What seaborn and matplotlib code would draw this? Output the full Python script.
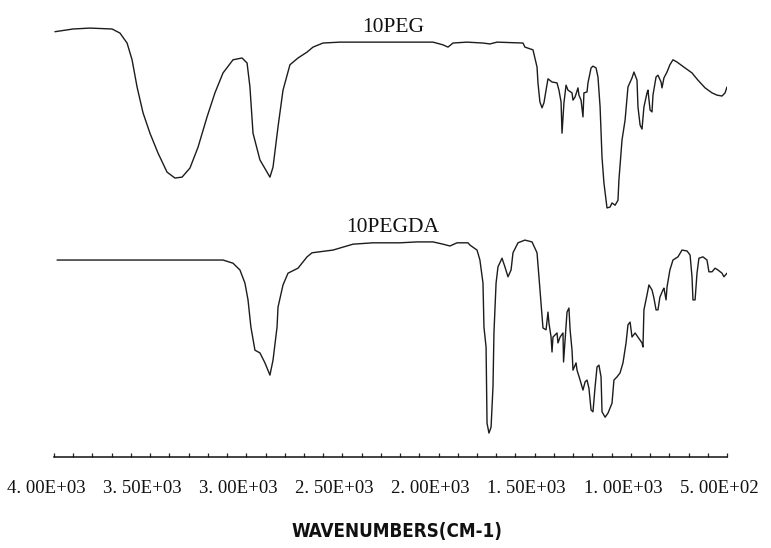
import matplotlib
matplotlib.use("Agg")
import matplotlib.pyplot as plt
import matplotlib.transforms as mtransforms
from matplotlib import font_manager
from matplotlib.ticker import MultipleLocator, FixedLocator
import numpy as np
import pandas as pd
import seaborn as sns

# ---------------- data ----------------
peg_wn = [3995, 3901, 3813, 3698, 3657, 3620, 3594, 3568, 3537, 3501, 3459, 3412,
          3371, 3334, 3293, 3251, 3204, 3163, 3121, 3069, 3022, 2996, 2981, 2965,
          2929, 2877, 2861, 2835, 2809, 2773, 2731, 2684, 2653, 2601, 2513, 2409,
          2201, 2029, 1977, 1951, 1925, 1852, 1769, 1733, 1696, 1561, 1551, 1509,
          1488, 1483, 1473, 1462, 1452, 1441, 1431, 1410, 1384, 1374, 1363, 1358,
          1348, 1337, 1327, 1306, 1301, 1290, 1275, 1270, 1259, 1249, 1244, 1228,
          1223, 1207, 1197, 1181, 1171, 1160, 1150, 1140, 1124, 1108, 1098, 1082,
          1067, 1062, 1046, 1030, 1015, 994, 984, 968, 963, 952, 942, 932, 916,
          911, 900, 890, 885, 869, 859, 843, 838, 828, 812, 797, 781, 760, 718,
          682, 651, 614, 578, 552, 526, 510, 500]
peg_t = [93.0, 93.6, 93.8, 93.6, 92.7, 90.5, 86.8, 80.8, 75.1, 70.6, 66.2, 62.0,
         60.7, 60.9, 62.9, 67.5, 74.2, 79.5, 83.9, 86.8, 87.2, 86.1, 80.8, 70.6,
         64.7, 60.9, 63.1, 72.0, 80.1, 85.7, 87.2, 88.5, 89.6, 90.5, 90.7, 90.7,
         90.7, 90.7, 90.1, 89.6, 90.5, 90.7, 90.5, 90.3, 90.7, 90.5, 89.6, 89.0,
         85.2, 81.7, 77.5, 76.2, 77.3, 80.1, 82.6, 81.9, 81.7, 80.1, 77.5, 70.6,
         77.3, 81.2, 80.1, 79.5, 77.9, 78.6, 80.6, 79.0, 77.9, 74.2, 79.5, 79.7,
         81.7, 85.0, 85.4, 85.0, 83.0, 76.4, 65.3, 59.6, 54.1, 54.3, 55.2, 54.7,
         55.8, 60.3, 69.1, 73.5, 80.8, 82.8, 84.1, 82.3, 76.4, 72.4, 71.5, 76.4, 79.5,
         80.1, 75.7, 75.3, 79.0, 83.0, 83.4, 81.9, 80.6, 82.8, 84.1, 85.7, 86.8, 86.3, 85.0,
         83.9, 82.3, 80.6, 79.5, 79.0, 78.8, 79.5, 80.8]

pegda_wn = [3984, 3121, 3069, 3033, 3007, 2991, 2976, 2955, 2929, 2903, 2877, 2861,
            2840, 2835, 2809, 2783, 2731, 2684, 2658, 2549, 2445, 2341, 2201, 2112,
            2029, 1977, 1941, 1904, 1847, 1837, 1800, 1785, 1769, 1764, 1753, 1748,
            1738, 1727, 1717, 1712, 1701, 1691, 1670, 1655, 1639, 1623, 1613, 1587,
            1551, 1514, 1488, 1478, 1467, 1457, 1441, 1431, 1426, 1415, 1410, 1405,
            1384, 1379, 1368, 1353, 1350, 1342, 1332, 1322, 1316, 1306, 1301, 1285,
            1280, 1264, 1249, 1238, 1228, 1218, 1207, 1197, 1186, 1176, 1166, 1155,
            1150, 1134, 1119, 1098, 1088, 1072, 1056, 1041, 1025, 1015, 1004, 994,
            978, 963, 942, 937, 932, 916, 906, 890, 880, 869, 859, 849, 833, 828,
            817, 812, 797, 781, 755, 734, 708, 692, 682, 677, 666, 656, 646, 625,
            604, 594, 578, 562, 547, 526, 516, 500]
pegda_t = [42.6, 42.6, 41.9, 40.4, 37.5, 33.8, 27.8, 22.7, 22.1, 19.9, 17.2, 20.5,
           27.8, 32.2, 37.1, 39.7, 40.8, 43.3, 44.2, 44.8, 46.1, 46.4, 46.4, 46.6,
           46.6, 46.1, 45.7, 46.4, 46.4, 45.9, 44.8, 42.6, 37.5, 27.8, 23.4, 6.6,
           4.4, 5.7, 14.6, 26.5, 37.5, 41.1, 43.0, 41.1, 38.9, 40.4, 44.2, 46.4,
           47.0, 46.6, 44.2, 38.9, 33.1, 27.6, 27.2, 31.1, 28.7, 25.6, 22.3, 25.6,
           26.5, 24.3, 25.6, 26.5, 20.1, 24.9, 31.1, 32.0, 27.2, 22.7, 18.3, 19.9,
           18.3, 16.1, 13.9, 15.7, 16.1, 14.3, 9.5, 9.1, 14.6, 19.0, 19.4, 16.8,
           9.1, 7.9, 8.8, 11.0, 16.1, 16.8, 17.7, 19.9, 24.3, 28.3, 28.9, 25.6,
           26.5, 25.6, 24.3, 23.4, 31.6, 34.9, 37.1, 36.0, 34.2, 31.6, 31.6, 34.4, 36.0, 36.4,
           33.8, 36.6, 40.4, 42.6, 43.3, 44.8, 44.6, 43.7, 38.9, 33.8, 33.8, 39.7, 43.0, 43.3,
           42.6, 40.0, 40.0, 40.8, 40.4, 39.7, 38.9, 39.7]

series_names = ["10PEG", "10PEGDA"]
tick_values = [4000, 3500, 3000, 2500, 2000, 1500, 1000, 500]
tick_labels = ["4. 00E+03", "3. 50E+03", "3. 00E+03", "2. 50E+03",
               "2. 00E+03", "1. 50E+03", "1. 00E+03", "5. 00E+02"]
x_label = "WAVENUMBERS(CM-1)"
# label anchor points (wavenumber, value) for the series names
name_wn = [2235, 2240]
name_t = [93.0, 48.7]

# ---------------- build frame ----------------
df = pd.concat([
    pd.DataFrame({"wn": peg_wn, "T": peg_t, "sample": series_names[0]}),
    pd.DataFrame({"wn": pegda_wn, "T": pegda_t, "sample": series_names[1]}),
], ignore_index=True)

sns.set_style("white")
plt.rcParams["font.family"] = ["Liberation Serif", "DejaVu Serif"]

fig = plt.figure(figsize=(7.71, 5.48), dpi=100)
ax = fig.add_axes([54 / 771, 1 - 457 / 548, 673 / 771, 457 / 548])

sns.lineplot(data=df, x="wn", y="T", units="sample", estimator=None,
             color="#1c1c1c", linewidth=1.0, ax=ax, legend=False)

ax.set_xlim(4000, 500)
ax.set_ylim(-0.88, 100)

for nm, xw, yt in zip(series_names, name_wn, name_t):
    ax.text(xw, yt, nm, ha="center", va="baseline", fontsize=15.5,
            family=["Liberation Serif", "DejaVu Serif"], color="#111111")

# spines
for s in ["top", "left", "right"]:
    ax.spines[s].set_visible(False)
ax.spines["bottom"].set_color("#111111")
ax.spines["bottom"].set_linewidth(1.1)
ax.set_yticks([])
ax.set_ylabel("")

ax.xaxis.set_major_locator(FixedLocator(tick_values))
ax.set_xticklabels(tick_labels)
ax.xaxis.set_minor_locator(MultipleLocator(100))
ax.tick_params(axis="x", which="both", direction="in", length=3.0, width=0.9,
               color="#222222", bottom=True)
ax.tick_params(axis="x", which="major", pad=16.5, labelsize=13.5, labelcolor="#111111")

shift = mtransforms.ScaledTranslation(-8 / 100, 0, fig.dpi_scale_trans)
for lab in ax.get_xticklabels():
    lab.set_transform(lab.get_transform() + shift)
    lab.set_family(["Liberation Serif", "DejaVu Serif"])

# condensed bold sans for the axis title
names = {f.name for f in font_manager.fontManager.ttflist}
if "Liberation Sans Narrow" in names:
    xl_font, xl_size, xl_stretch = "Liberation Sans Narrow", 16.5, "normal"
elif "DejaVu Sans Condensed" in names:
    xl_font, xl_size, xl_stretch = "DejaVu Sans Condensed", 14.6, "condensed"
else:
    xl_font, xl_size, xl_stretch = "DejaVu Sans", 13.5, "condensed"
ax.set_xlabel(x_label, fontsize=xl_size, fontweight="bold", family=[xl_font, "DejaVu Sans"],
              fontstretch=xl_stretch, color="#111111")
ax.xaxis.label.set_va("center")
ax.xaxis.set_label_coords((397 - 54) / 673, (457 - 531) / 457)

fig.savefig("out.png", dpi=100)
